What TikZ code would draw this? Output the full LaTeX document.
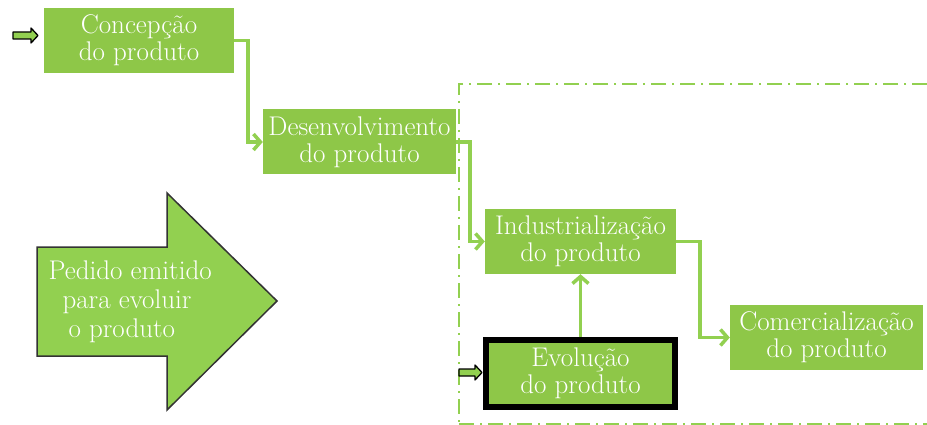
\documentclass[tikz,border=0pt]{standalone}
\usepackage{tikz}
\usetikzlibrary{arrows.meta}
\definecolor{boxgreen}{RGB}{142,199,72}
\definecolor{linegreen}{RGB}{146,208,80}

\begin{document}
\begin{tikzpicture}[x=1pt,y=-1pt,
  etapa/.style={fill=boxgreen, text=white, align=center, inner sep=0pt,
    minimum width=191pt, minimum height=65pt, font=\fontsize{27}{27}\selectfont},
  liga/.style={draw=linegreen, line width=3.5pt, -{Straight Barb[length=7pt,width=16pt]}},
  entrada/.style={draw=black, fill=linegreen, line width=1.3pt, line join=round}]
\useasboundingbox (0,0) rectangle (927,425);

% moldura tracejada
\draw[linegreen, line width=2pt, dash pattern=on 15pt off 6pt on 2pt off 6pt]
  (927,84) -- (459,84) -- (459,425);
\draw[linegreen, line width=2pt, dash pattern=on 15pt off 6pt on 2pt off 6pt]
  (459,424) -- (927,424);

% etapas
\node[etapa, minimum width=190pt] (conc) at (139,40.5) {Concepção\\do produto};
\node[etapa, minimum width=193pt] (desen) at (359.5,142) {Desenvolvimento\\do produto};
\node[etapa] (indus) at (580.5,241.5) {Industrialização\\do produto};
\node[etapa, draw=black, line width=6pt, minimum width=189pt, minimum height=67pt]
  (evol) at (580.5,373.5) {Evolução\\do produto};
\node[etapa, minimum width=193pt] (comerc) at (826.5,337.5) {Comercialização\\do produto};

\draw[liga] (conc.east) -- ++(14,0) |- (desen.west);
\draw[liga] (desen.east) -- ++(14,0) |- (indus.west);
\draw[liga] (indus.east) -- ++(24,0) |- (comerc.west);
\draw[liga] (evol.north) -- (indus.south);

% entradas
\draw[entrada] (13,32) -- (31,32) -- (31,28) -- (38,35.5) -- (31,43) -- (31,39) -- (13,39) -- cycle;
\draw[entrada] (459,369) -- (475,369) -- (475,365) -- (482,372.5) -- (475,380) -- (475,376) -- (459,376) -- cycle;

% seta grande
\draw[fill=linegreen, draw=black!80, line width=1.5pt]
  (37,247) -- (167,247) -- (167,193) -- (277,301) -- (167,410) -- (167,356) -- (37,356) -- cycle;
\node[font=\fontsize{27}{29}\selectfont, text=white, align=left, anchor=west] (pedido) at (45,302)
  {Pedido emitido\\\hspace*{14pt}para evoluir\\\hspace*{20pt}o produto};
\end{tikzpicture}
\end{document}
